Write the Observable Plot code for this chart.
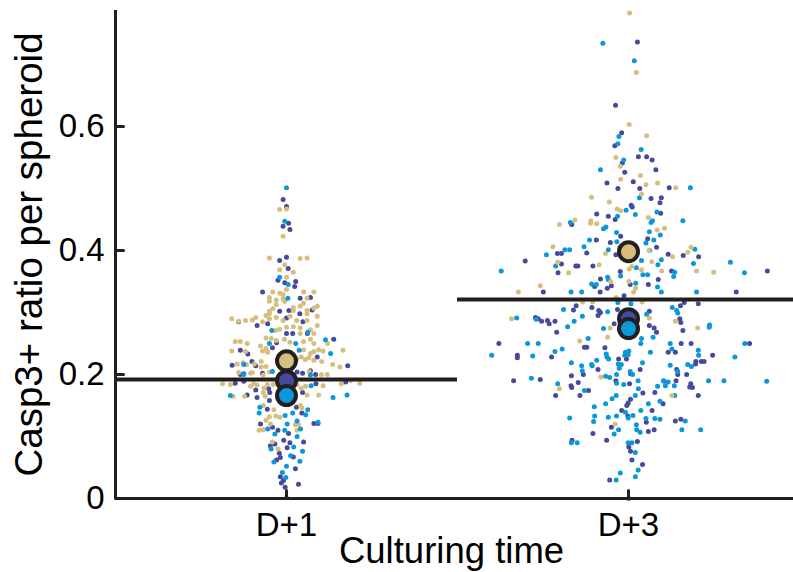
<!DOCTYPE html>
<html>
<head>
<meta charset="utf-8">
<script src="https://cdn.jsdelivr.net/npm/d3@7"></script>
<script src="https://cdn.jsdelivr.net/npm/@observablehq/plot@0.6"></script>
<style>
  html, body { margin: 0; padding: 0; background: #fff; }
  #chart { width: 793px; height: 572px; overflow: hidden; }
</style>
</head>
<body>
<div id="chart"></div>
<script>
// ---- categories & labels ----
const days = ["D+1", "D+3"];
const dayTicks = [1, 2];
const replicates = ["rep1", "rep2", "rep3"];           // tan, dark blue, cyan
const repColors = ["#D5BE7E", "#454A9C", "#0A98D8"];
const yTicks = [0, 0.2, 0.4, 0.6];
const yTickLabels = ["0", "0.2", "0.4", "0.6"];
const yTitle = "Casp3+ ratio per spheroid";
const xTitle = "Culturing time";

// replicate means (big dots) per day: [rep1, rep2, rep3]
const repMeansD1 = [0.222, 0.190, 0.166];
const repMeansD3 = [0.398, 0.290, 0.274];
// pooled mean per day (black lines)
const pooledMeans = [0.192, 0.321];

// ---- spheroid values: [jitter (% of category width), Casp3+ ratio] ----
const d1Rep1 = [
[-2,.466],[0,.467],[-1,.423],[-5,.388],[4,.387],[6,.388],[-2,.369],[-0.5,.377],[2,.365],[0,.357],[0,.337],[-4,.333],[-2,.331],[-1,.329],[5,.333],[8,.333],[-5,.324],[6,.323],[-5,.318],[-3,.320],[-1,.322],[-3,.313],[-0.5,.318],[2,.308],[4,.310],[5,.315],[8,.307],[9,.310],[-4,.306],[-5,.302],[6,.303],[2,.303],
[-16,.290],[-14,.286],[-12,.287],[-10,.288],[-7,.285],[-5,.290],[-5,.298],[-9,.292],[-6,.295],[-3,.292],[-1,.287],[1,.294],[3,.287],[6,.298],[9,.294],[6,.287],[9,.279],
[-3.2,.271],[-2,.273],[0,.276],[2,.277],[4,.275],[7,.272],[4,.266],[8,.266],[-6,.259],[-4.5,.258],[-3,.255],[-0.6,.257],[1,.252],[5,.253],[7,.257],[8,.250],[12,.250],
[-15,.253],[-13.5,.253],[-11.5,.250],[-7.6,.246],[-6,.242],[-7,.238],[-5.5,.236],[-16,.238],[-12,.237],[5,.240],[7,.234],[8,.237],[9.4,.240],[10.7,.238],[16.5,.239],
[1.5,.233],[3,.225],[4.3,.228],[5.5,.224],[6.5,.227],[8,.223],[10.3,.221],[13.5,.216],[15.6,.212],[-14.4,.217],[-12.7,.219],[-11.7,.216],[-9.4,.217],[-7.4,.221],[-7.4,.212],[-6,.213],
[-14,.203],[-10,.203],[-5,.204],[-10.5,.202],[-6.8,.199],[6.6,.205],[10.2,.200],[11.9,.200],
[-18.7,.185],[-16.4,.184],[-10.5,.181],[-9.6,.185],[-8.6,.183],[-6.6,.178],[-5.6,.184],[-3.9,.184],[3.1,.184],[4.3,.178],[5.6,.181],[10.7,.182],[16,.185],[18.7,.190],[21.4,.186],
[-15.6,.165],[-12.3,.165],[-6.8,.171],[-6.2,.165],[2.1,.169],[6,.167],[9.4,.167],
[-6.8,.150],[-3.7,.143],[-3.1,.133],[-2,.131],[4.1,.150],[4.5,.146],[-5,.132],[-6,.126],[-4.7,.120],[-6.8,.111],[3.5,.119],[-8,.110],
[-2.5,.080],[3.1,.110],[2.6,.119],[-4.2,.091],[0,.002]
];
const d1Rep2 = [
[-1,.482],[0,.471],[-1,.439],[0.6,.444],[1,.434],[-2,.384],[0,.389],[0.5,.371],[-2.5,.352],[-0.5,.348],[2.7,.350],[2.4,.342],[-7,.333],[4,.323],[7,.324],[7.5,.304],[-2,.302],[0.7,.303],
[-14,.285],[0,.291],[3.9,.298],[4.8,.285],[-8.6,.279],[-5.5,.282],[0,.266],[1.8,.266],[6.1,.266],[-2.9,.251],[13.8,.257],[-4.1,.243],[-13.5,.239],[-11.3,.233],[9,.228],[17.9,.214],
[-15.9,.215],[-10.1,.221],[-9,.214],[3.1,.204],[7,.206],[-13.5,.200],[-7,.202],[4.7,.202],[8.5,.200],[-12.5,.201],
[-15,.186],[-12.5,.189],[-9,.175],[-5.2,.177],[8.6,.185],[17.3,.188],[-11.5,.167],[-8.6,.163],[-4.9,.171],[-5,.158],[4.7,.171],
[-5.6,.144],[2.9,.147],[4.5,.138],[-7.6,.120],[-4.1,.115],[-2.5,.110],[0.6,.105],[8,.121],[9.2,.121],
[-4.7,.085],[-3.4,.088],[-0.8,.094],[1,.090],[0.2,.082],[5,.091],[-2.1,.073],[2,.067],[-1.8,.066],[-2.9,.062],[2.6,.048],[-1.8,.035],[-1.5,.025],[-0.4,.018],[-0.9,.029],[3.5,.023]
];
const d1Rep3 = [
[0,.501],[-0.5,.447],[-2,.357],[0.5,.345],[0.4,.323],
[-4.3,.271],[6.2,.268],[-5,.250],[2.7,.250],[11.4,.256],[3.7,.239],[12.9,.234],[-12.5,.216],[-4.1,.205],
[-12.5,.200],[7,.199],[7.2,.182],[13.6,.163],[17.7,.167],[-16.4,.166],[-7.8,.147],[-8,.138],[1.8,.138],[5.6,.135],[6.2,.143],[-0.4,.134],
[-5.5,.112],[0.2,.120],[3.1,.125],[4.1,.112],[-3.4,.104],
[-4.5,.080],[2.1,.083],[4.7,.076],[3.1,.100],[1.2,.069],[-3.7,.059],[0,.052],[3.9,.060],[-1.2,.042],[-0.2,.034],[-0.5,.110],[9.2,.123]
];
const d3Rep1 = [
[0.3,.783],[2.3,.687],[0.2,.603],[5.3,.585],[-3.7,.550],[-2.4,.536],[3.5,.521],[-2.3,.515],[5.1,.506],[8.5,.509],[13.8,.501],[-10.8,.486],[3.8,.491],[-5.6,.478],[-3.3,.467],[-2.3,.464],[5.8,.453],
[-20.2,.442],[-15.7,.449],[-11,.448],[-11.1,.444],[-9.3,.443],[10.5,.436],[8.4,.433],[-22.1,.406],[18.3,.405],[17.3,.397],[12.9,.390],[6.8,.382],[9.7,.367],[6,.400],[19.9,.367],[24.9,.365],[-2.6,.405],
[-20.7,.381],[-17.5,.364],[-8.6,.377],[-6.7,.395],[0.2,.370],[1,.374],[3.8,.369],[-5.2,.350],[-25.8,.343],[-32.2,.333],[0.1,.350],[2.1,.339],[1.5,.333],[-3.6,.324],[-13.4,.317],[-10.5,.317],[4,.317],
[6.1,.291],[13.7,.286],[20.2,.275],[-34.2,.290],[-20.2,.177],[-14.3,.254],[-6.1,.260],[-5.4,.275],[-8.1,.196],[-3.9,.120],[12.7,.166]
];
const d3Rep2 = [
[2.6,.736],[-3.8,.634],[-2,.590],[-4,.569],[-1.8,.541],[2.9,.551],[5.3,.551],[6.9,.546],[-1.1,.526],[8,.530],[-6.3,.509],[1.4,.511],[-3.1,.500],[3.3,.500],[11.9,.501],[6.6,.484],[9.6,.485],[9.2,.477],[0.8,.473],[1.1,.470],[9.4,.460],[-9.3,.459],[-5.9,.455],[-3.9,.450],[-16.6,.442],[-2.3,.423],[-9.4,.417],[5.6,.419],[-5.3,.413],[8.2,.405],
[20.5,.390],[16,.392],[11.6,.394],[12.6,.367],[40.6,.367],[31.5,.333],[-30.2,.383],[-20.8,.395],[-19.6,.395],[-19.6,.378],[-20.6,.364],[-15.4,.375],[-14.8,.375],[-12.2,.396],[-10.4,.375],[-3.7,.393],[-2.4,.366],[-8.2,.354],[-5,.343],[-6.2,.339],[-9.9,.342],[-24.9,.333],[-8.3,.333],[0.5,.345],[5.8,.345],[8.7,.353],[-1.3,.327],
[-15.3,.311],[-16.1,.304],[-10.7,.308],[-8.7,.303],[-8.2,.300],[-3.2,.305],[-8.9,.295],[15.2,.311],[16.3,.316],[20.4,.314],[6.1,.302],[7.5,.275],[8.2,.268],[6.1,.279],[15,.290],[15.3,.284],[15.9,.271],
[-27.2,.292],[-26.4,.290],[-25.4,.286],[-23.7,.287],[-23.2,.282],[-21.5,.286],[-21,.268],[-22.5,.228],[-37.9,.250],[-32.5,.231],[-32.5,.227],[-33.6,.190],[-25.8,.192],[-21.3,.166],[-16.8,.182],[-16.6,.179],[-16.7,.198],[-14.7,.187],[-13.2,.200],[-11.7,.174],[-12.9,.244],[-12.2,.244],[-8.9,.208],[-6.9,.243],
[-3.7,.190],[0.3,.185],[-2.9,.225],[-0.6,.225],[0.6,.201],[3.4,.208],[4.2,.170],[0.6,.160],[-0.5,.150],[-0.1,.154],[-2,.142],[-0.2,.133],[6.9,.142],[-10.4,.105],[-5,.115],[-6.4,.094],[-16.5,.094],[2.6,.092],[0.1,.083],[0.6,.076],[1,.062],[4.1,.055],[-5.5,.030],
[5.8,.108],[7.5,.111],[5.2,.123],[10.1,.153],[7.7,.171],[10.4,.189],[13.7,.125],[15.3,.128],[13.9,.190],[14.4,.200],[14.1,.208],[17,.200],[18.2,.185],[18.7,.179],[17.9,.180],[20.4,.166],[19.7,.221],[21.3,.221],[22.1,.221],[24.6,.231],[35.4,.250],[18.3,.250],[15.4,.250],[11.6,.236],[13.7,.236],[19.6,.217],[-14.2,.166],[-4.2,.282]
];
const d3Rep3 = [
[-7.5,.734],[1.7,.706],[-2.8,.584],[-3.1,.572],[3.7,.563],[-1.4,.546],[-8.2,.530],[18.1,.501],[3.2,.485],[-0.7,.465],[2,.458],[8.3,.462],[-3.2,.455],[15.9,.448],[-17,.445],[7,.448],[6.6,.445],[-6.6,.438],[-7.3,.435],[-3.5,.429],[6.1,.430],[9.3,.425],[-11.4,.417],[-3.4,.414],[7.4,.417],[-13,.406],[19.4,.402],[-18.6,.401],[-17.2,.401],[-5.9,.401],[5.1,.412],
[9.6,.385],[8.6,.377],[6.2,.400],[19,.379],[13.2,.358],[13.5,.365],[29.8,.381],[33.9,.364],[19.9,.333],[-37.2,.367],[-24,.393],[-21.3,.375],[-2.3,.359],[2.3,.372],[3.8,.384],[4.2,.361],[5.6,.361],[-6.1,.357],[-5.9,.353],[-9.4,.345],[-10.8,.346],[-16.8,.333],[-13.7,.333],[2.1,.347],[8.5,.341],[9.6,.333],
[-3.1,.316],[0.7,.314],[-19,.305],[-6.1,.301],[-13.5,.294],[14.1,.303],[14.4,.299],[12.8,.308],[5.3,.297],[7.2,.260],[3.8,.258],[3.6,.250],[23.7,.280],[23.6,.276],[-32.7,.291],[-27,.289],[-17.8,.277],[-15.9,.286],[-19.4,.241],[-21.5,.237],[-28,.230],[-26.4,.250],[-29.5,.250],[-40,.231],[-28.4,.194],[-20.7,.185],
[-16.7,.219],[-13.7,.214],[-13.5,.206],[-12.9,.174],[-11.8,.258],[-10.8,.216],[-10.6,.214],[-9.3,.223],[-6.5,.233],[-6.3,.228],[-5.8,.225],[-6.7,.197],[-5.5,.195],[-3.5,.186],[-1.4,.184],[-3.5,.200],[-2.7,.210],[-3,.217],[-2.1,.216],[-1.1,.231],[-0.1,.232],[-0.9,.236],[0.1,.238],[0.5,.205],[1.2,.200],[2.8,.190],[4.1,.219],[2.9,.177],[2,.166],
[-0.9,.139],[1.3,.134],[-0.1,.130],[2.3,.119],[2.4,.111],[5.8,.153],[3.6,.142],[-10,.148],[-9.9,.133],[-10.2,.124],[-6.7,.153],[-4.8,.161],[-3.6,.166],[-5.9,.131],[-3.5,.133],[-4.2,.104],[-2.9,.111],[-17.2,.130],[-16.7,.090],[-15,.090],[-0.1,.090],[1,.090],[2,.074],[2.8,.046],[2,.035],[-2.4,.041],[-3.6,.030],[0.1,.000],
[3.4,.107],[5.1,.129],[7.7,.129],[9.2,.128],[9.2,.157],[8.5,.181],[10.2,.190],[10.8,.182],[11.6,.188],[13.4,.182],[13.5,.166],[16.6,.125],[15.6,.111],[21.1,.111],[17.3,.216],[18.4,.213],[20.5,.231],[23.4,.190],[27.9,.190],[31.1,.228],[34,.250],[40.4,.189],[12.2,.250],[12.7,.241],[20.4,.239],[6.4,.236],[12.2,.215],[14.4,.205],[-7.3,.274]
];

// ---- build tables for Plot ----
const spheroidSets = [
  {day: 0, rep: 1, pts: d1Rep2}, {day: 0, rep: 0, pts: d1Rep1}, {day: 0, rep: 2, pts: d1Rep3},
  {day: 1, rep: 1, pts: d3Rep2}, {day: 1, rep: 2, pts: d3Rep3}, {day: 1, rep: 0, pts: d3Rep1}
];
const spheroids = spheroidSets.flatMap(s =>
  s.pts.map(([j, v]) => ({x: dayTicks[s.day] + j / 100, y: v, rep: replicates[s.rep]})));
const repMeans = [repMeansD1, repMeansD3].flatMap((arr, di) =>
  arr.map((m, ri) => ({x: dayTicks[di], y: m, rep: replicates[ri]})));
const pooled = pooledMeans.map((m, i) => ({x1: dayTicks[i] - 0.5, x2: dayTicks[i] + 0.5, y: m}));

const ink = "#231F20";
const tickShape = {draw(ctx, l) { ctx.moveTo(0, 0); ctx.lineTo(0, -l); }};

const chart = Plot.plot({
  width: 793,
  height: 572,
  marginLeft: 115,
  marginRight: 0,
  marginTop: 10,
  marginBottom: 74,
  x: {domain: [0.5, 2.5], range: [115, 799], axis: null},
  y: {domain: [0, 0.787], axis: null},
  color: {domain: replicates, range: repColors},
  style: {fontFamily: "'Liberation Sans', Arial, Helvetica, sans-serif", background: "white", color: "black"},
  marks: [
    Plot.dot(spheroids, {x: "x", y: "y", fill: "rep", r: 2.5}),
    Plot.ruleY(pooled, {x1: "x1", x2: "x2", y: "y", stroke: ink, strokeWidth: 4}),
    Plot.ruleX([0.5], {y1: 0, y2: 0.787, stroke: ink, strokeWidth: 3}),
    Plot.ruleY([0], {x1: 0.5, x2: 2.5, stroke: ink, strokeWidth: 3}),
    Plot.vector(yTicks, {y: d => d, frameAnchor: "left", length: 8, rotate: 90, anchor: "start", shape: tickShape, stroke: ink, strokeWidth: 3}),
    Plot.vector(dayTicks, {x: d => d, frameAnchor: "bottom", length: 8, rotate: 0, anchor: "start", shape: tickShape, stroke: ink, strokeWidth: 3}),
    Plot.dot(repMeans, {x: "x", y: "y", fill: "rep", r: 9.5, stroke: ink, strokeWidth: 4}),
    Plot.text(yTicks, {y: d => d, frameAnchor: "left", dx: -11, textAnchor: "end", text: (d, i) => yTickLabels[i], fontSize: 33, fill: "black"}),
    Plot.text(dayTicks, {x: d => d, frameAnchor: "bottom", dy: 14, lineAnchor: "top", text: (d, i) => days[i], fontSize: 33, fill: "black"}),
    Plot.text([yTitle], {frameAnchor: "left", dx: -86, dy: 0, rotate: -90, textAnchor: "middle", lineAnchor: "middle", text: d => d, fontSize: 38.5, fill: "black"}),
    Plot.text([xTitle], {frameAnchor: "bottom", dx: -3, dy: 39, lineAnchor: "top", text: d => d, fontSize: 36.5, fill: "black"})
  ]
});
document.getElementById("chart").appendChild(chart);
</script>
</body>
</html>
